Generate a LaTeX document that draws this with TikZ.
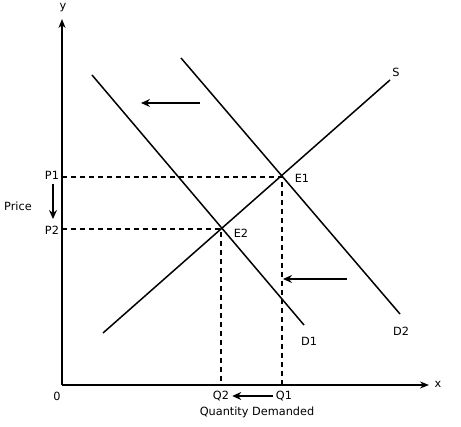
\documentclass[tikz,border=0pt]{standalone}
\usepackage{fontspec}
\setmainfont{DejaVu Sans}
\usetikzlibrary{arrows.meta}
\begin{document}
\begin{tikzpicture}[x=1pt,y=-1pt,
  lbl/.style={font=\fontsize{11.3}{13}\selectfont, inner sep=0pt},
  axis/.style={line width=1.8pt, -{Stealth[length=9pt,width=7pt,inset=3pt]}},
  curve/.style={line width=1.5pt},
  guide/.style={line width=1.4pt, dash pattern=on 5pt off 4pt},
  movearrow/.style={line width=1.5pt, -{Stealth[length=9pt,width=8pt,inset=3pt]}}]
\useasboundingbox (0,0) rectangle (461,427);
% axes
\coordinate (O) at (62,385);
\coordinate (ytop) at (62,19);
\coordinate (xend) at (429,385);
\draw[axis] (O) -- (ytop);
\draw[axis] (O) -- (xend);
\node[lbl] (ylab) at (63,8) {y};
\node[lbl] (xlab) at (438,384) {x};
\node[lbl] (zero) at (57,396) {0};
% equilibrium points
\coordinate (E1) at (282,177);
\coordinate (E2) at (221,229);
\coordinate (Q1) at (282,385);
\coordinate (Q2) at (221,385);
\coordinate (P1) at (62,177);
\coordinate (P2) at (62,229);
% supply
\coordinate (Sa) at (103,333);
\coordinate (Sb) at (390,80);
\draw[curve] (Sa) -- (Sb);
\node[lbl] (Slab) at (396,72) {S};
% demand D2
\coordinate (D2a) at (181,58);
\coordinate (D2b) at (400,314);
\draw[curve] (D2a) -- (D2b);
\node[lbl] (D2lab) at (401,331) {D2};
% demand D1
\coordinate (D1a) at (92,75);
\coordinate (D1b) at (304,325);
\draw[curve] (D1a) -- (D1b);
\node[lbl] (D1lab) at (309,341) {D1};
% guides
\draw[guide] (P1) -- (E1) -- (Q1);
\draw[guide] (P2) -- (E2) -- (Q2);
% labels
\node[lbl] (E1lab) at (302,178) {E1};
\node[lbl] (E2lab) at (241,233) {E2};
\node[lbl] (P1lab) at (52,175) {P1};
\node[lbl] (P2lab) at (52,230) {P2};
\node[lbl] (price) at (18,206) {Price};
\node[lbl] (Q2lab) at (221,396) {Q2};
\node[lbl] (Q1lab) at (284,396) {Q1};
\node[lbl] (qd) at (257,412) {Quantity Demanded};
% shift arrows
\coordinate (pa) at (53,184);
\coordinate (pb) at (53,219);
\draw[movearrow] (pa) -- (pb);
\coordinate (ta) at (200,103);
\coordinate (tb) at (141,103);
\draw[movearrow] (ta) -- (tb);
\coordinate (ma) at (347,279);
\coordinate (mb) at (283,279);
\draw[movearrow] (ma) -- (mb);
\draw[movearrow] ([xshift=-3pt]Q1lab.west) -- ([xshift=3pt]Q2lab.east);
\end{tikzpicture}
\end{document}
